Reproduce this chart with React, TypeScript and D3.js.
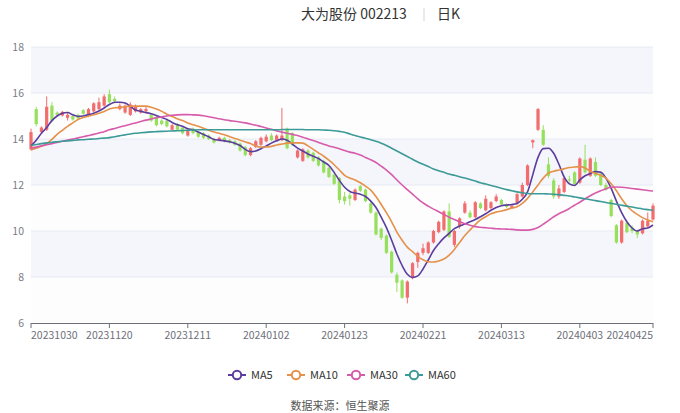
import React from 'react';
import * as d3 from 'd3';

const dates = [
  '20231030', '20231031', '20231101', '20231102', '20231103', '20231106', '20231107', '20231108', '20231109', '20231110',
  '20231113', '20231114', '20231115', '20231116', '20231117', '20231120', '20231121', '20231122', '20231123', '20231124',
  '20231127', '20231128', '20231129', '20231130', '20231201', '20231204', '20231205', '20231206', '20231207', '20231208',
  '20231211', '20231212', '20231213', '20231214', '20231215', '20231218', '20231219', '20231220', '20231221', '20231222',
  '20231225', '20231226', '20231227', '20231228', '20231229', '20240102', '20240103', '20240104', '20240105', '20240108',
  '20240109', '20240110', '20240111', '20240112', '20240115', '20240116', '20240117', '20240118', '20240119', '20240122',
  '20240123', '20240124', '20240125', '20240126', '20240129', '20240130', '20240131', '20240201', '20240202', '20240205',
  '20240206', '20240207', '20240208', '20240219', '20240220', '20240221', '20240222', '20240223', '20240226', '20240227',
  '20240228', '20240229', '20240301', '20240304', '20240305', '20240306', '20240307', '20240308', '20240311', '20240312',
  '20240313', '20240314', '20240315', '20240318', '20240319', '20240320', '20240321', '20240322', '20240325', '20240326',
  '20240327', '20240328', '20240329', '20240401', '20240402', '20240403', '20240408', '20240409', '20240410', '20240411',
  '20240412', '20240415', '20240416', '20240417', '20240418', '20240419', '20240422', '20240423', '20240424', '20240425',
];

// [open, close, high, low]
const ohlc: [number, number, number, number][] = [
  [13.55, 14.3, 14.45, 13.5], [15.3, 14.65, 15.4, 14.55], [14.3, 14.5, 14.55, 14.25], [14.4, 15.4, 15.85, 14.35], [15.45, 14.8, 15.6, 14.75],
  [15.15, 15.05, 15.2, 14.98], [15.02, 15.18, 15.22, 14.98], [14.92, 15.05, 15.15, 14.8], [15.0, 14.85, 15.05, 14.8], [15.05, 14.9, 15.1, 14.85],
  [15.25, 15.1, 15.3, 15.05], [15.0, 15.3, 15.35, 14.95], [15.2, 15.55, 15.6, 15.15], [15.3, 15.6, 15.8, 15.25], [15.45, 15.85, 15.95, 15.4],
  [15.95, 15.6, 16.15, 15.5], [15.75, 15.65, 15.85, 15.55], [15.3, 15.45, 15.55, 15.25], [15.15, 15.45, 15.5, 15.1], [15.05, 15.5, 15.6, 15.0],
  [15.2, 15.4, 15.5, 15.15], [15.15, 15.3, 15.35, 15.1], [15.2, 15.3, 15.4, 15.1], [15.05, 14.8, 15.1, 14.75], [14.95, 14.6, 15.0, 14.55],
  [14.8, 14.65, 14.85, 14.6], [14.8, 14.55, 14.85, 14.5], [14.4, 14.6, 14.65, 14.35], [14.65, 14.4, 14.7, 14.35], [14.5, 14.25, 14.55, 14.2],
  [14.15, 14.4, 14.45, 14.1], [14.45, 14.25, 14.5, 14.2], [14.3, 14.1, 14.35, 14.05], [14.25, 14.05, 14.3, 14.0], [14.15, 14.0, 14.2, 13.95],
  [14.0, 13.85, 14.05, 13.8], [13.95, 14.05, 14.1, 13.9], [14.05, 13.9, 14.1, 13.85], [13.95, 13.85, 14.0, 13.8], [13.9, 13.75, 13.95, 13.7],
  [13.8, 13.5, 13.85, 13.45], [13.65, 13.3, 13.7, 13.25], [13.3, 13.6, 13.65, 13.25], [13.65, 13.9, 13.95, 13.6], [13.75, 14.05, 14.1, 13.7],
  [13.9, 14.1, 14.2, 13.85], [14.15, 13.95, 14.25, 13.9], [13.95, 14.15, 14.2, 13.9], [13.95, 14.15, 15.35, 13.9], [14.45, 13.6, 14.5, 13.55],
  [14.25, 13.75, 14.3, 13.7], [13.2, 13.5, 13.55, 13.15], [13.05, 13.55, 13.6, 13.0], [13.5, 13.2, 13.55, 13.15], [13.4, 13.05, 13.45, 13.0],
  [13.2, 12.85, 13.25, 12.8], [13.05, 12.55, 13.1, 12.5], [12.75, 12.35, 12.8, 12.3], [12.45, 12.05, 12.5, 12.0], [12.3, 11.35, 12.35, 11.2],
  [11.5, 11.3, 11.7, 11.15], [11.55, 11.4, 11.65, 11.1], [11.35, 11.8, 11.85, 11.3], [11.95, 11.75, 12.0, 11.7], [11.8, 11.3, 11.85, 11.25],
  [11.2, 10.8, 11.25, 10.75], [10.8, 9.85, 10.85, 9.8], [10.1, 9.7, 10.15, 9.6], [9.8, 9.05, 9.85, 9.0], [9.1, 8.2, 9.15, 8.15],
  [8.1, 7.75, 8.2, 7.35], [7.85, 7.1, 7.9, 7.05], [7.1, 7.8, 7.85, 6.85], [7.95, 8.6, 8.65, 7.9], [8.65, 9.05, 9.1, 8.4],
  [9.05, 9.25, 9.45, 8.95], [9.05, 9.5, 9.55, 9.0], [9.5, 10.0, 10.05, 9.45], [9.95, 10.4, 10.45, 9.9], [10.05, 10.85, 10.9, 10.0],
  [10.85, 9.75, 11.2, 9.7], [9.4, 10.0, 10.05, 9.3], [10.2, 10.55, 10.6, 10.1], [10.8, 11.2, 11.3, 10.75], [10.8, 10.6, 10.9, 10.55],
  [10.6, 11.25, 11.3, 10.55], [11.2, 11.0, 11.25, 10.95], [10.9, 11.4, 11.55, 10.85], [11.0, 11.25, 11.3, 10.95], [11.3, 11.5, 11.6, 11.25],
  [11.35, 11.15, 11.4, 11.1], [11.15, 11.05, 11.2, 11.0], [11.0, 11.1, 11.15, 10.95], [11.2, 11.6, 11.65, 11.15], [11.5, 12.0, 12.1, 11.45],
  [12.0, 12.85, 12.9, 11.95], [13.85, 13.95, 13.98, 13.6], [14.4, 15.3, 15.35, 14.35], [14.4, 13.75, 14.6, 13.7], [12.9, 12.4, 13.2, 12.3],
  [12.2, 11.5, 12.3, 11.4], [11.5, 11.85, 12.0, 11.4], [11.7, 12.3, 12.35, 11.65], [12.25, 12.2, 12.4, 12.1], [12.55, 12.05, 12.6, 12.0],
  [12.1, 13.15, 13.2, 12.05], [13.1, 12.55, 13.75, 12.5], [12.4, 13.15, 13.2, 12.35], [13.0, 12.4, 13.2, 12.35], [12.5, 12.0, 12.6, 11.95],
  [12.0, 11.8, 12.1, 11.75], [11.35, 10.65, 11.4, 10.6], [10.25, 9.5, 10.3, 9.45], [9.5, 10.45, 10.5, 9.45], [10.35, 9.95, 10.4, 9.9],
  [10.15, 10.0, 10.25, 9.9], [10.0, 9.85, 10.05, 9.7], [9.9, 10.45, 10.5, 9.85], [10.2, 10.45, 10.8, 10.15], [10.5, 11.1, 11.2, 10.45],
];

const ma5 = [
  13.7, 13.95, 14.25, 14.5, 14.8, 15.0, 15.12, 15.15, 15.05, 14.98,
  15.0, 15.06, 15.12, 15.22, 15.35, 15.5, 15.6, 15.6, 15.56, 15.42,
  15.26, 15.2, 15.15, 15.1, 15.02, 14.93, 14.85, 14.72, 14.62, 14.55,
  14.45, 14.4, 14.3, 14.2, 14.1, 13.98, 13.95, 13.92, 13.88, 13.82,
  13.72, 13.55, 13.45, 13.48, 13.58, 13.7, 13.82, 13.92, 14.0, 13.95,
  13.78, 13.6, 13.48, 13.35, 13.25, 13.15, 13.0, 12.85, 12.55, 12.2,
  11.9, 11.72, 11.65, 11.6, 11.5, 11.3, 11.02, 10.6, 10.15, 9.6,
  9.0, 8.5, 8.12, 7.98, 8.05, 8.35, 8.74, 9.15, 9.45, 9.7,
  9.9, 10.1, 10.22, 10.3, 10.4, 10.5, 10.62, 10.75, 10.9, 11.02,
  11.1, 11.13, 11.15, 11.2, 11.38, 11.7, 12.45, 13.2, 13.58, 13.6,
  13.38, 12.9, 12.35, 12.05, 11.98, 12.22, 12.4, 12.5, 12.58, 12.55,
  12.3, 11.85, 11.3, 10.8, 10.4, 10.13, 10.0, 10.1, 10.13, 10.26,
];

const ma10 = [
  13.52, 13.6, 13.68, 13.8, 13.98, 14.2, 14.38, 14.55, 14.7, 14.85,
  14.93, 15.0, 15.05, 15.12, 15.2, 15.3, 15.36, 15.37, 15.4, 15.43,
  15.43, 15.43, 15.43, 15.38, 15.3, 15.2, 15.08, 14.98, 14.88, 14.8,
  14.7, 14.62, 14.55, 14.47, 14.38, 14.3, 14.25, 14.18, 14.1, 14.02,
  13.95, 13.87, 13.8, 13.7, 13.65, 13.65, 13.68, 13.74, 13.78, 13.82,
  13.83, 13.83, 13.82, 13.7, 13.55, 13.4, 13.25, 13.08, 12.88, 12.65,
  12.42, 12.3, 12.22, 12.1, 11.95, 11.78, 11.5, 11.15, 10.8, 10.4,
  9.95, 9.6, 9.3, 9.1, 8.9, 8.75, 8.66, 8.65, 8.7, 8.78,
  8.95, 9.2, 9.5, 9.8, 10.05, 10.28, 10.48, 10.62, 10.75, 10.82,
  10.87, 10.93, 11.0, 11.05, 11.2, 11.42, 11.7, 12.0, 12.3, 12.52,
  12.6, 12.65, 12.7, 12.76, 12.78, 12.8, 12.74, 12.6, 12.5, 12.42,
  12.3, 12.05, 11.75, 11.4, 11.1, 10.88, 10.72, 10.58, 10.48, 10.4,
];

const ma30 = [
  13.6, 13.65, 13.7, 13.75, 13.8, 13.85, 13.9, 13.95, 14.0, 14.05,
  14.1, 14.15, 14.2, 14.26, 14.32, 14.4, 14.46, 14.52, 14.58, 14.64,
  14.7, 14.76, 14.82, 14.87, 14.92, 14.96, 15.0, 15.03, 15.05, 15.06,
  15.06, 15.05, 15.04, 15.01, 14.97, 14.92, 14.88, 14.84, 14.8, 14.77,
  14.74, 14.7, 14.65, 14.6, 14.54, 14.48, 14.42, 14.35, 14.3, 14.25,
  14.2, 14.15, 14.08, 14.0, 13.93, 13.85, 13.77, 13.7, 13.64, 13.58,
  13.5, 13.43, 13.38, 13.3, 13.2, 13.1, 12.98, 12.82, 12.65, 12.45,
  12.22, 12.0, 11.8, 11.6, 11.4, 11.22, 11.08, 10.95, 10.84, 10.72,
  10.6, 10.5, 10.4, 10.32, 10.25, 10.19, 10.16, 10.14, 10.12, 10.1,
  10.09, 10.08, 10.07, 10.05, 10.04, 10.04, 10.07, 10.15, 10.3, 10.45,
  10.62, 10.75, 10.86, 10.98, 11.12, 11.25, 11.4, 11.53, 11.65, 11.75,
  11.84, 11.9, 11.91, 11.9, 11.88, 11.85, 11.82, 11.79, 11.76, 11.74,
];

const ma60 = [
  13.72, 13.76, 13.8, 13.83, 13.86, 13.88, 13.9, 13.92, 13.94, 13.96,
  13.97, 13.99, 14.0, 14.02, 14.04, 14.06, 14.1, 14.14, 14.18, 14.22,
  14.25, 14.27, 14.29, 14.31, 14.32, 14.33, 14.34, 14.35, 14.36, 14.37,
  14.38, 14.39, 14.4, 14.4, 14.4, 14.4, 14.4, 14.4, 14.4, 14.4,
  14.4, 14.4, 14.4, 14.4, 14.4, 14.4, 14.4, 14.4, 14.41, 14.41,
  14.41, 14.41, 14.41, 14.4, 14.4, 14.4, 14.39, 14.38, 14.36, 14.33,
  14.29, 14.22, 14.15, 14.09, 14.03, 13.97, 13.9, 13.82, 13.72, 13.6,
  13.48, 13.36, 13.24, 13.12, 13.0, 12.9, 12.8, 12.7, 12.62, 12.55,
  12.48, 12.42, 12.36, 12.3, 12.24, 12.17, 12.1, 12.04, 11.98, 11.92,
  11.86, 11.8, 11.75, 11.7, 11.66, 11.63, 11.62, 11.62, 11.62, 11.61,
  11.6, 11.58, 11.55, 11.52, 11.48, 11.44, 11.4, 11.36, 11.32, 11.28,
  11.24, 11.2, 11.16, 11.12, 11.08, 11.04, 11.0, 10.96, 10.93, 10.9,
];

const yTicks = [6, 8, 10, 12, 14, 16, 18];
const labelIdx = [0, 15, 30, 45, 60, 75, 90, 105, 119];

const series = [
  { name: 'MA5', values: ma5, color: '#5b3d9e' },
  { name: 'MA10', values: ma10, color: '#e5914a' },
  { name: 'MA30', values: ma30, color: '#d75bab' },
  { name: 'MA60', values: ma60, color: '#3c9a97' },
];

const W = 680;
const H = 413;
const FONT = '"Noto Sans CJK SC", "Noto Sans", sans-serif';
const UP = '#f26d6d';
const DOWN = '#97e05e';

export default function App() {
  const left = 31, right = 653, top = 47, bottom = 323;
  const x = d3.scalePoint<string>().domain(dates).range([left, right]);
  const y = d3.scaleLinear().domain([6, 18]).range([bottom, top]);
  const step = x.step();
  const bodyW = step * 0.62;

  const line = d3.line<number>()
    .x((_, i) => x(dates[i]) as number)
    .y((d) => y(d))
    .curve(d3.curveMonotoneX);

  const legendX = [228, 287, 347, 405];

  return (
    <div style={{ position: 'absolute', left: 0, top: 0 }}>
      <svg width={W} height={H} style={{ display: 'block', fontFamily: FONT }}>
        <rect width={W} height={H} fill="#fff" />

        {/* title */}
        <text x={301} y={19} fontSize={14} fill="#333">大为股份 002213</text>
        <line x1={424} x2={424} y1={8} y2={21} stroke="#d5d5d5" />
        <text x={437} y={19} fontSize={14} fill="#333">日K</text>

        {/* split areas */}
        {yTicks.slice(0, -1).map((t, i) => (
          <rect key={t} x={left} width={right - left} y={y(t + 2)} height={y(t) - y(t + 2)}
            fill={i % 2 === 1 ? '#f4f6fb' : '#fdfdfe'} />
        ))}
        {yTicks.map((t) => (
          <g key={t}>
            {t !== 6 && <line x1={left} x2={right} y1={y(t)} y2={y(t)} stroke="#e6eaf2" />}
            <text x={24} y={y(t) + 4} fontSize={10.5} fill="#7a7c85" textAnchor="end">{t}</text>
          </g>
        ))}

        {/* x axis */}
        <line x1={left} x2={right} y1={bottom + 0.5} y2={bottom + 0.5} stroke="#6e7079" />
        {labelIdx.map((idx, k) => {
          const px = x(dates[idx]) as number;
          const anchor = k === 0 ? 'start' : k === labelIdx.length - 1 ? 'end' : 'middle';
          return (
            <g key={idx}>
              <line x1={px} x2={px} y1={bottom} y2={bottom + 5} stroke="#6e7079" />
              <text x={px} y={bottom + 16} fontSize={10.5} fill="#6e7079" textAnchor={anchor}>{dates[idx]}</text>
            </g>
          );
        })}

        {/* candles */}
        {ohlc.map(([o, c, h, l], i) => {
          const px = x(dates[i]) as number;
          const col = c >= o ? UP : DOWN;
          const y0 = y(Math.max(o, c));
          const y1 = y(Math.min(o, c));
          return (
            <g key={dates[i]}>
              <line x1={px} x2={px} y1={y(h)} y2={y(l)} stroke={col} strokeWidth={1} />
              <rect x={px - bodyW / 2} y={y0} width={bodyW} height={Math.max(1, y1 - y0)} fill={col} />
            </g>
          );
        })}

        {/* moving averages */}
        {series.map((s) => (
          <path key={s.name} d={line(s.values) || ''} fill="none" stroke={s.color} strokeWidth={1.6} />
        ))}

        {/* legend */}
        {series.map((s, i) => (
          <g key={s.name} transform={`translate(${legendX[i]},375)`}>
            <line x1={0} x2={18} y1={0} y2={0} stroke={s.color} strokeWidth={2} />
            <circle cx={9} cy={0} r={4.2} fill="#fff" stroke={s.color} strokeWidth={2} />
            <text x={23} y={4} fontSize={11} fill="#333">{s.name}</text>
          </g>
        ))}

        {/* footer */}
        <text x={W / 2} y={410} fontSize={11} fill="#555" textAnchor="middle">数据来源：恒生聚源</text>
      </svg>
    </div>
  );
}
